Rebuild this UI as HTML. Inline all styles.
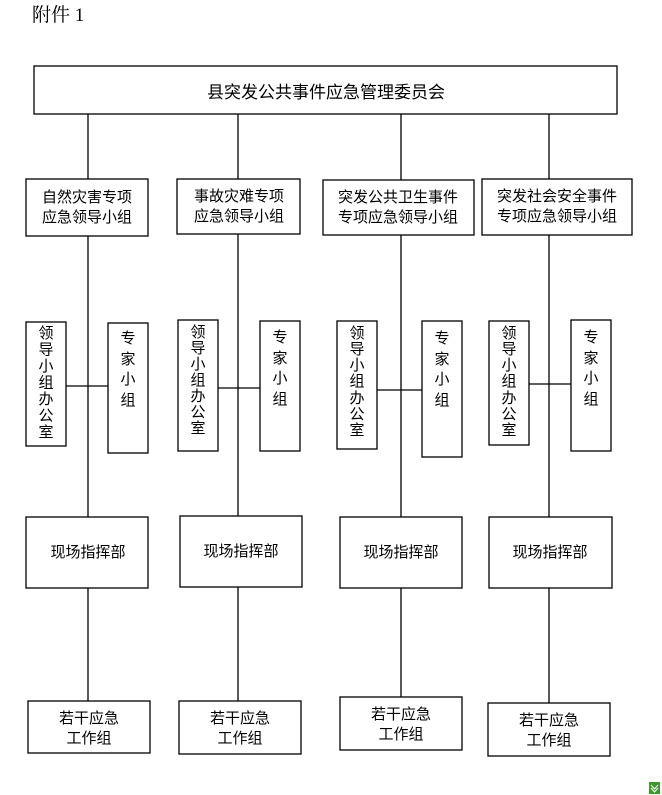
<!DOCTYPE html>
<html><head><meta charset="utf-8"><style>
html,body{margin:0;padding:0;background:#fff}
svg{display:block}
text{font-family:"Liberation Serif","Noto Sans CJK SC",sans-serif;fill:#000}
.c{font-family:"Noto Sans CJK SC","WenQuanYi Zen Hei",sans-serif;font-size:15px;text-anchor:middle}
rect{fill:#fff;stroke:#000;stroke-width:1.3}
line{stroke:#000;stroke-width:1.3}
</style></head><body>
<svg width="662" height="795" viewBox="0 0 662 795">
<text x="32" y="21" style="font-family:'Liberation Serif','Noto Serif CJK SC',serif;font-size:19px">附件 1</text>
<line x1="88" y1="114" x2="88" y2="701"/>
<line x1="238" y1="114" x2="238" y2="701"/>
<line x1="401" y1="114" x2="401" y2="697"/>
<line x1="549" y1="114" x2="549" y2="703"/>
<line x1="66" y1="386" x2="108" y2="386"/>
<line x1="218" y1="388" x2="260" y2="388"/>
<line x1="377" y1="390" x2="422" y2="390"/>
<line x1="529" y1="384" x2="571" y2="384"/>

<rect x="34" y="66" width="583" height="48"/>
<text class="c" x="326" y="98" style="font-size:17px">县突发公共事件应急管理委员会</text>

<rect x="26" y="179" width="122" height="57"/>
<text class="c" x="87" y="202">自然灾害专项</text><text class="c" x="87" y="222">应急领导小组</text>
<rect x="177" y="179" width="123" height="55"/>
<text class="c" x="239" y="201">事故灾难专项</text><text class="c" x="239" y="221">应急领导小组</text>
<rect x="323" y="180" width="151" height="55"/>
<text class="c" x="398" y="202">突发公共卫生事件</text><text class="c" x="398" y="222">专项应急领导小组</text>
<rect x="482" y="179" width="150" height="56"/>
<text class="c" x="557" y="201">突发社会安全事件</text><text class="c" x="557" y="221">专项应急领导小组</text>

<rect x="26" y="322" width="40" height="124"/>
<rect x="108" y="323" width="40" height="130"/>
<rect x="178" y="320" width="40" height="131"/>
<rect x="260" y="321" width="40" height="130"/>
<rect x="337" y="321" width="40" height="128"/>
<rect x="422" y="321" width="40" height="136"/>
<rect x="489" y="321" width="40" height="124"/>
<rect x="571" y="320" width="40" height="131"/>

<g>
<text class="c" x="46" y="338">领</text><text class="c" x="46" y="354.5">导</text><text class="c" x="46" y="371">小</text><text class="c" x="46" y="387.5">组</text><text class="c" x="46" y="404">办</text><text class="c" x="46" y="420.5">公</text><text class="c" x="46" y="437">室</text>
<text class="c" x="198" y="337">领</text><text class="c" x="198" y="353">导</text><text class="c" x="198" y="369">小</text><text class="c" x="198" y="385">组</text><text class="c" x="198" y="401">办</text><text class="c" x="198" y="417">公</text><text class="c" x="198" y="433">室</text>
<text class="c" x="357" y="338">领</text><text class="c" x="357" y="354">导</text><text class="c" x="357" y="370">小</text><text class="c" x="357" y="386">组</text><text class="c" x="357" y="403">办</text><text class="c" x="357" y="419">公</text><text class="c" x="357" y="435">室</text>
<text class="c" x="509" y="338">领</text><text class="c" x="509" y="354">导</text><text class="c" x="509" y="370">小</text><text class="c" x="509" y="386">组</text><text class="c" x="509" y="403">办</text><text class="c" x="509" y="419">公</text><text class="c" x="509" y="435">室</text>
<text class="c" x="128" y="343">专</text><text class="c" x="128" y="364">家</text><text class="c" x="128" y="384">小</text><text class="c" x="128" y="405">组</text>
<text class="c" x="280" y="342">专</text><text class="c" x="280" y="363">家</text><text class="c" x="280" y="383">小</text><text class="c" x="280" y="404">组</text>
<text class="c" x="442" y="343">专</text><text class="c" x="442" y="364">家</text><text class="c" x="442" y="384">小</text><text class="c" x="442" y="405">组</text>
<text class="c" x="591" y="342">专</text><text class="c" x="591" y="363">家</text><text class="c" x="591" y="383">小</text><text class="c" x="591" y="404">组</text>
</g>

<rect x="26" y="517" width="122" height="71"/><text class="c" x="88" y="557">现场指挥部</text>
<rect x="180" y="516" width="122" height="71"/><text class="c" x="241" y="556">现场指挥部</text>
<rect x="340" y="517" width="122" height="71"/><text class="c" x="401" y="557">现场指挥部</text>
<rect x="489" y="517" width="123" height="71"/><text class="c" x="550" y="557">现场指挥部</text>

<rect x="28" y="701" width="122" height="52"/><text class="c" x="89" y="723">若干应急</text><text class="c" x="89" y="743">工作组</text>
<rect x="179" y="701" width="122" height="53"/><text class="c" x="240" y="723">若干应急</text><text class="c" x="240" y="743">工作组</text>
<rect x="340" y="697" width="122" height="53"/><text class="c" x="401" y="719">若干应急</text><text class="c" x="401" y="739">工作组</text>
<rect x="488" y="703" width="122" height="53"/><text class="c" x="549" y="725">若干应急</text><text class="c" x="549" y="745">工作组</text>

<rect x="649" y="782" width="11" height="12" style="fill:#3a9a2a;stroke:none"/>
<path d="M651,785 L654.5,789 L658,785 M651,788 L654.5,792 L658,788" style="fill:none;stroke:#fff;stroke-width:1"/>
</svg>
</body></html>
